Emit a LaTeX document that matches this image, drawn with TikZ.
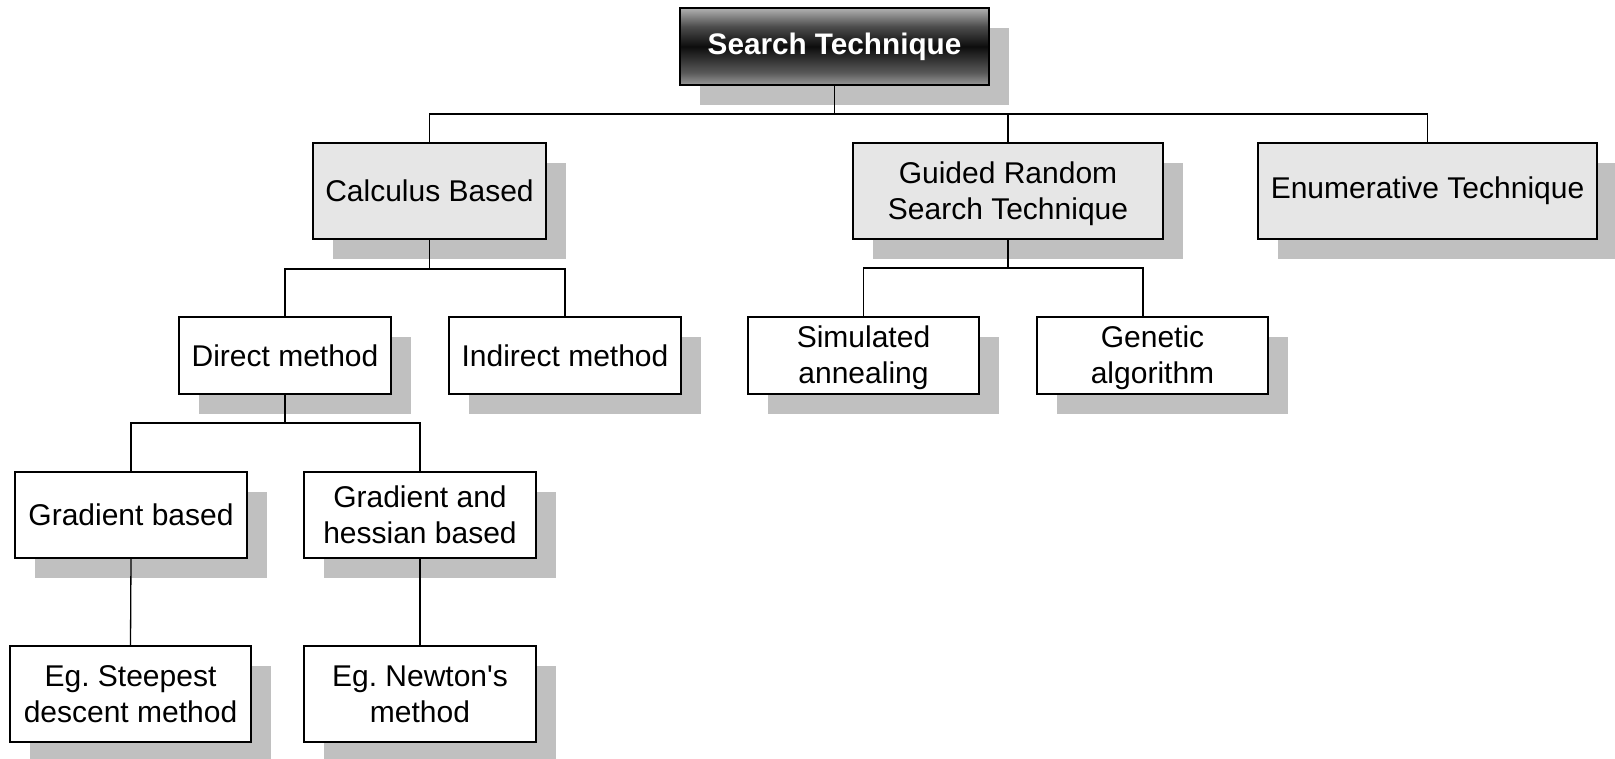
\documentclass[tikz,border=0pt]{standalone}
\usepackage{fontspec}
\setmainfont{Liberation Sans}
\usetikzlibrary{shadows}
\frenchspacing
\definecolor{shgray}{HTML}{C0C0C0}
\definecolor{lvlgray}{HTML}{E6E6E6}
\newcommand{\lowtwo}[2]{\raisebox{-3pt}[\height][\depth]{\begin{tabular}{@{}c@{}}#1\\#2\end{tabular}}}
\pgfdeclareverticalshading{metal}{100bp}{color(0bp)=(black!40); color(25bp)=(black!40); color(33bp)=(black!65); color(50bp)=(black!95); color(63bp)=(black!70); color(75bp)=(black!30); color(100bp)=(black!30)}
\tikzset{
  boxbase/.style={rectangle, inner sep=0pt, align=center, text=black,
    font=\fontsize{30}{36}\selectfont,
    drop shadow={shadow xshift=20pt, shadow yshift=-20pt, fill=shgray, opacity=1, draw=none}},
  topbox/.style={boxbase, draw=black, line width=2pt, shading=metal, text=white,
    font=\fontsize{29.7}{36}\selectfont\bfseries},
  lvlone/.style={boxbase, draw=black, line width=2pt, fill=lvlgray},
  lvltwo/.style={boxbase, draw=black, line width=1.3pt, fill=white},
  conn/.style={draw=black, line width=1.3pt}
}
\begin{document}
\begin{tikzpicture}[x=1pt,y=-1pt]
\useasboundingbox[fill=white] (0,0) rectangle (1615,758);
\node[topbox, minimum width=309pt, minimum height=77pt] (top) at (834.5,46.5) {Search Technique};
\node[lvlone, minimum width=233pt, minimum height=96pt] (calc) at (429.5,191) {Calculus Based};
\node[lvlone, minimum width=310pt, minimum height=96pt] (guided) at (1008,191) {\lowtwo{Guided Random}{Search Technique}};
\node[lvlone, minimum width=339pt, minimum height=96pt] (enum) at (1427.5,191) {Enumerative Technique};
\node[lvltwo, minimum width=212pt, minimum height=77pt] (direct) at (285,355.5) {Direct method};
\node[lvltwo, minimum width=232pt, minimum height=77pt] (indirect) at (565,355.5) {Indirect method};
\node[lvltwo, minimum width=231pt, minimum height=77pt] (sim) at (863.5,355.5) {\lowtwo{Simulated}{annealing}};
\node[lvltwo, minimum width=231pt, minimum height=77pt] (gen) at (1152.5,355.5) {\lowtwo{Genetic}{algorithm}};
\node[lvltwo, minimum width=232pt, minimum height=86pt] (gb) at (131,515) {Gradient based};
\node[lvltwo, minimum width=232pt, minimum height=86pt] (gh) at (420,515) {Gradient and\\hessian based};
\node[lvltwo, minimum width=241pt, minimum height=96pt] (steep) at (130.5,694) {Eg. Steepest\\descent method};
\node[lvltwo, minimum width=232pt, minimum height=96pt] (newton) at (420,694) {Eg. Newton\textquotesingle s\\method};
\coordinate (busA) at (834.5,114);
\coordinate (busB) at (429.5,269);
\coordinate (busC) at (1008,268);
\coordinate (busD) at (285,423);
\coordinate (genstem) at ([xshift=-9.5pt]gen.north);
% level 0 -> level 1
\draw[conn] (top.south) -- (top.south |- busA);
\draw[conn] (calc.north) -- (calc.north |- busA) -- (enum.north |- busA) -- (enum.north);
\draw[conn] (guided.north) -- (guided.north |- busA);
% calculus -> direct / indirect
\draw[conn] (calc.south) -- (calc.south |- busB);
\draw[conn] (direct.north) -- (direct.north |- busB) -- (indirect.north |- busB) -- (indirect.north);
% guided -> simulated / genetic
\draw[conn] (guided.south) -- (guided.south |- busC);
\draw[conn] (sim.north) -- (sim.north |- busC) -- (genstem |- busC) -- (genstem);
% direct -> gradient based / hessian
\draw[conn] (direct.south) -- (direct.south |- busD);
\draw[conn] (gb.north) -- (gb.north |- busD) -- (gh.north |- busD) -- (gh.north);
% leaves
\draw[conn] (gb.south) -- (steep.north);
\draw[conn] (gh.south) -- (newton.north);
\end{tikzpicture}
\end{document}
